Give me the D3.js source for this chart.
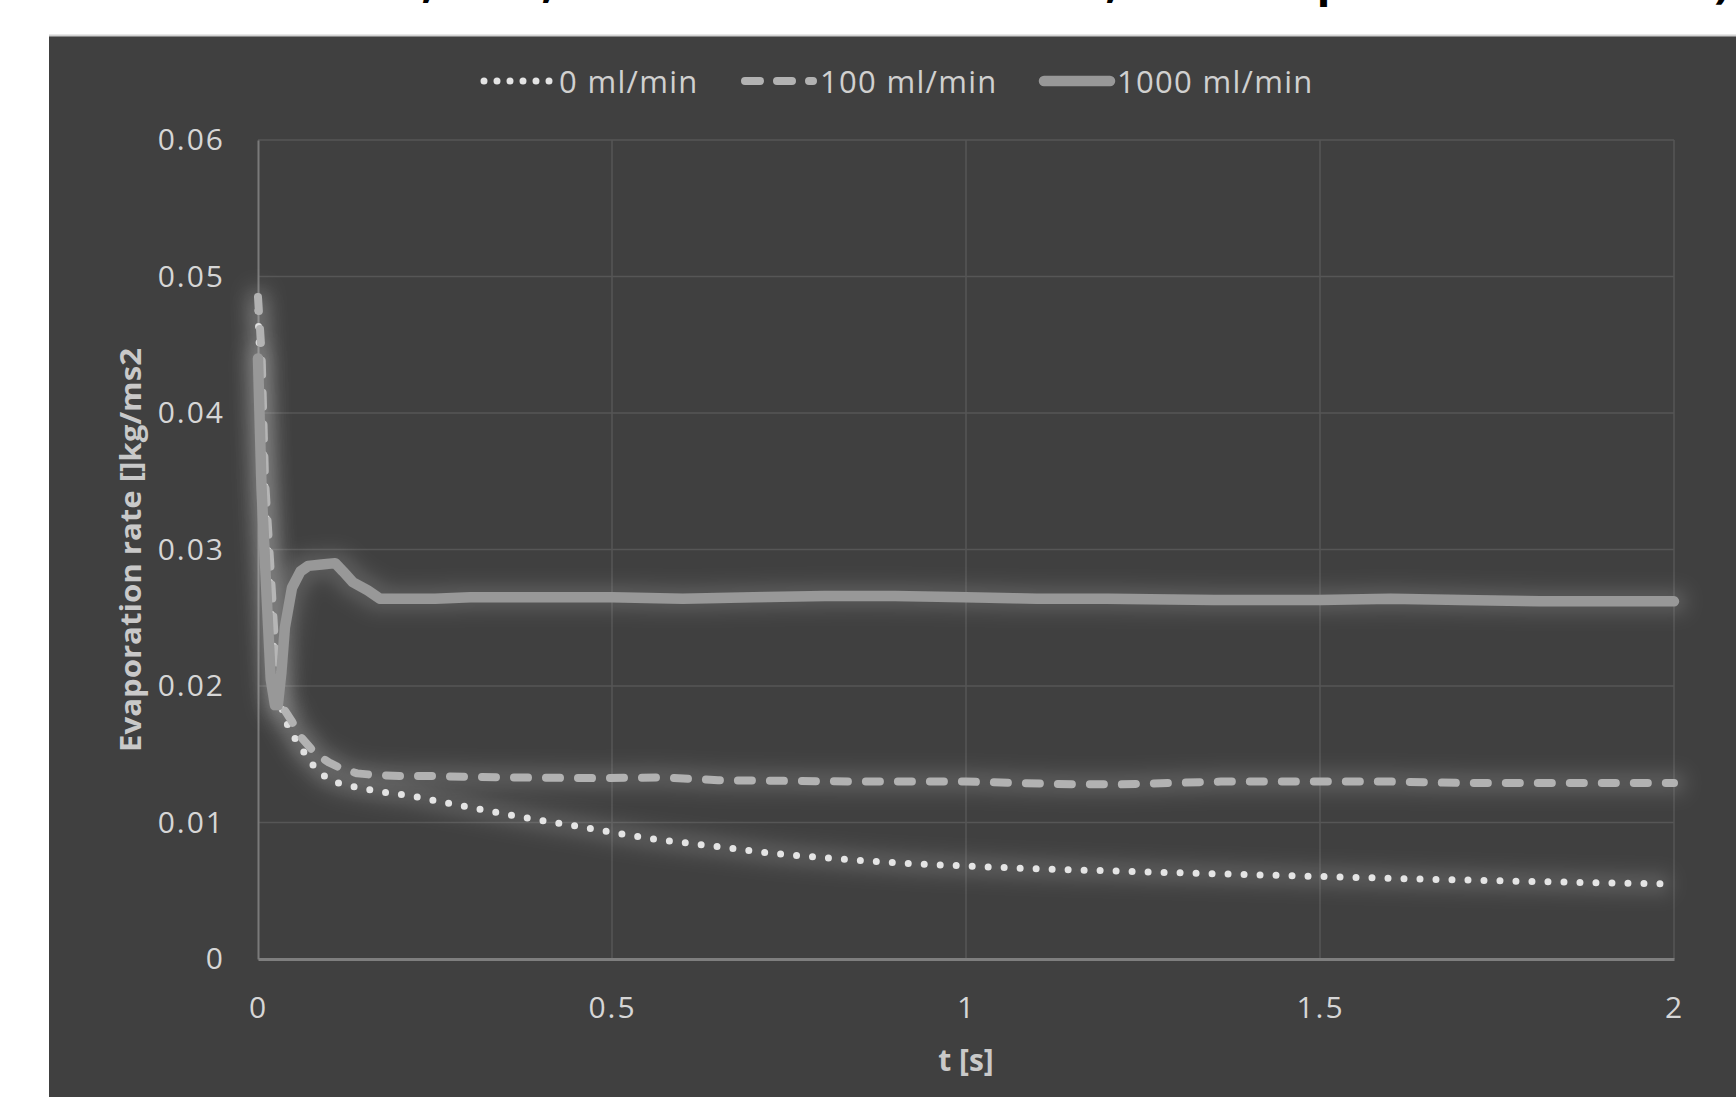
<!DOCTYPE html>
<html>
<head>
<meta charset="utf-8">
<script src="https://cdn.jsdelivr.net/npm/d3@7"></script>
<style>
  html, body { margin: 0; padding: 0; background: #fff; }
  svg { display: block; }
</style>
</head>
<body>
<svg id="chart" width="1736" height="1097"></svg>
<script>
(function () {
'use strict';

    // series, t in s, rate in kg/ms2
    var t0 = [0, 0.005, 0.012, 0.02, 0.028, 0.038, 0.048, 0.06, 0.0725, 0.087, 0.105, 0.128, 0.172, 0.217, 0.262,
              0.306, 0.351, 0.396, 0.441, 0.481, 0.551, 0.641, 0.73, 0.821, 0.911, 1.0, 1.09, 1.159, 1.297, 1.476,
              1.637, 1.816, 2.0];
    var rate0 = [0.0475, 0.0400, 0.0320, 0.0240, 0.0195, 0.01756, 0.01648, 0.01556, 0.01453, 0.01365, 0.0130, 0.0127,
                 0.01226, 0.01194, 0.01148, 0.01104, 0.0106, 0.01018, 0.00982, 0.00945, 0.00884, 0.00828, 0.00772,
                 0.00733, 0.00701, 0.00681, 0.00662, 0.00652, 0.00632, 0.00608, 0.00586, 0.00566, 0.00549];

    var t100 = [0, 0.005, 0.01, 0.017, 0.024, 0.03, 0.038, 0.048, 0.06, 0.08, 0.1, 0.116, 0.14, 0.161, 0.2, 0.25,
                0.35, 0.476, 0.568, 0.65, 0.747, 0.85, 0.926, 1.0, 1.067, 1.152, 1.22, 1.292, 1.36, 1.427, 1.516,
                1.6, 1.695, 1.8, 1.9, 2.0];
    var rate100 = [0.0485, 0.0444, 0.0350, 0.0292, 0.0231, 0.0190, 0.0182, 0.0174, 0.0163, 0.0151, 0.0144, 0.0140,
                   0.0136, 0.0135, 0.0134, 0.0134, 0.0133, 0.01325, 0.0133, 0.0131, 0.01305, 0.0130, 0.0130, 0.0130,
                   0.0129, 0.0128, 0.0128, 0.0129, 0.0130, 0.0130, 0.0130, 0.0130, 0.0129, 0.0129, 0.0129, 0.0129];

    var t1000 = [0, 0.005, 0.012, 0.018, 0.024, 0.028, 0.033, 0.038, 0.048, 0.06, 0.071, 0.09, 0.109, 0.12, 0.134,
                 0.155, 0.172, 0.2, 0.25, 0.3, 0.36, 0.45, 0.5, 0.6, 0.7, 0.8, 0.9, 1.0, 1.1, 1.2, 1.35, 1.5, 1.6,
                 1.7, 1.81, 1.9, 2.0];
    var rate1000 = [0.0440, 0.0345, 0.0268, 0.0205, 0.0186, 0.0186, 0.0210, 0.0243, 0.0272, 0.0284, 0.0288, 0.0289,
                    0.0290, 0.0284, 0.0276, 0.0270, 0.0264, 0.0264, 0.0264, 0.0265, 0.0265, 0.0265, 0.0265, 0.0264,
                    0.0265, 0.0266, 0.0266, 0.0265, 0.0264, 0.0264, 0.0263, 0.0263, 0.0264, 0.0263, 0.0262, 0.0262,
                    0.0262];

    var seriesNames = ['0 ml/min', '100 ml/min', '1000 ml/min'];
    var xTicks = [0, 0.5, 1, 1.5, 2];
    var yTicks = [0, 0.01, 0.02, 0.03, 0.04, 0.05, 0.06];
    var xTitle = 't [s]';
    var yTitle = 'Evaporation rate []kg/ms2';
    // only the bottoms of the title glyphs are in the frame
    var titleMarks = [',', ',', ',', 'p', ')'];

    var W = 1736, H = 1097;
    var plot = {left: 258, right: 1674, top: 140, bottom: 959};
    var font = '"Open Sans", "Noto Sans", sans-serif';

    var svg = d3.select('#chart');

    var x = d3.scaleLinear().domain([0, 2]).range([plot.left, plot.right]),
        y = d3.scaleLinear().domain([0, 0.06]).range([plot.bottom, plot.top]);

    var styles = [
        {stroke: '#e4e4e4', width: 7, dash: '0 16', legendDash: '0 13'},
        {stroke: '#b2b2b2', width: 8, dash: '14 18', legendDash: '15 17'},
        {stroke: '#989898', width: 10.5, dash: null, legendDash: null}
    ];

    var series = [
        {name: seriesNames[0], values: d3.zip(t0, rate0)},
        {name: seriesNames[1], values: d3.zip(t100, rate100)},
        {name: seriesNames[2], values: d3.zip(t1000, rate1000)}
    ];

    // glow like the office "glow" effect
    var defs = svg.append('defs');
    var glow = defs.append('filter')
        .attr('id', 'glow')
        .attr('filterUnits', 'userSpaceOnUse')
        .attr('x', 0).attr('y', 0).attr('width', W).attr('height', H);
    glow.append('feMorphology').attr('in', 'SourceAlpha').attr('operator', 'dilate').attr('radius', 7).attr('result', 'fat');
    glow.append('feGaussianBlur').attr('in', 'fat').attr('stdDeviation', 9).attr('result', 'soft');
    glow.append('feFlood').attr('flood-color', '#c8c8c8').attr('flood-opacity', 0.2).attr('result', 'col');
    glow.append('feComposite').attr('in', 'col').attr('in2', 'soft').attr('operator', 'in').attr('result', 'halo');
    var merge = glow.append('feMerge');
    merge.append('feMergeNode').attr('in', 'halo');
    merge.append('feMergeNode').attr('in', 'SourceGraphic');

    // cut off title
    svg.append('g').attr('class', 'title-marks')
        .selectAll('text').data(titleMarks).enter().append('text')
        .attr('x', function(d, i) { return [428, 548, 1112, 1331, 1722][i]; })
        .attr('y', function(d) { return d === 'p' ? -4 : -3; })
        .attr('text-anchor', 'middle')
        .attr('font-family', font)
        .attr('font-weight', 'bold')
        .attr('font-size', 46)
        .attr('fill', '#000')
        .text(function(d) { return d; });

    // dark chart area
    svg.append('rect')
        .attr('x', 49).attr('y', 35)
        .attr('width', W - 49).attr('height', H - 35)
        .attr('fill', '#404040');
    svg.append('line')
        .attr('x1', 49).attr('x2', W).attr('y1', 35.5).attr('y2', 35.5)
        .attr('stroke', '#d2d2d2').attr('stroke-width', 2);

    // grid
    var grid = svg.append('g').attr('class', 'grid');
    grid.selectAll('line.h').data(yTicks.slice(1)).enter().append('line')
        .attr('class', 'h')
        .attr('x1', plot.left).attr('x2', plot.right)
        .attr('y1', function(d) { return y(d); }).attr('y2', function(d) { return y(d); })
        .attr('stroke', '#565656').attr('stroke-width', 1.5);
    grid.selectAll('line.v').data(xTicks.slice(1)).enter().append('line')
        .attr('class', 'v')
        .attr('x1', function(d) { return x(d); }).attr('x2', function(d) { return x(d); })
        .attr('y1', plot.top).attr('y2', plot.bottom)
        .attr('stroke', '#565656').attr('stroke-width', 1.5);

    // axes
    var yAxis = svg.append('g')
        .attr('transform', 'translate(' + plot.left + ',0)')
        .call(d3.axisLeft(y).tickValues(yTicks).tickSize(0).tickPadding(33)
            .tickFormat(function(d) { return d === 0 ? '0' : d3.format('.2f')(d); }));
    var xAxis = svg.append('g')
        .attr('transform', 'translate(0,' + plot.bottom + ')')
        .call(d3.axisBottom(x).tickValues(xTicks).tickSize(0).tickPadding(38).tickFormat(d3.format('')));

    [xAxis, yAxis].forEach(function(a) {
        a.select('.domain').attr('stroke', '#7a7a7a').attr('stroke-width', 2);
        a.selectAll('text')
            .attr('fill', '#d6d6d6')
            .attr('font-family', font)
            .attr('font-size', 30)
            .attr('letter-spacing', 2);
    });
    xAxis.select('.domain').attr('stroke-width', 3).attr('stroke', '#7e7e7e');

    svg.append('text')
        .attr('transform', 'translate(129,550) rotate(-90)')
        .attr('text-anchor', 'middle')
        .attr('dominant-baseline', 'central')
        .attr('font-family', font)
        .attr('font-weight', 'bold')
        .attr('font-size', 29)
        .attr('textLength', 404)
        .attr('lengthAdjust', 'spacingAndGlyphs')
        .attr('fill', '#c9c9c9')
        .text(yTitle);

    svg.append('text')
        .attr('x', 966).attr('y', 1059)
        .attr('text-anchor', 'middle')
        .attr('dominant-baseline', 'central')
        .attr('font-family', font)
        .attr('font-weight', 'bold')
        .attr('font-size', 30)
        .attr('fill', '#c9c9c9')
        .text(xTitle);

    // lines
    var line = d3.line()
        .x(function(d) { return x(d[0]); })
        .y(function(d) { return y(d[1]); });

    var lines = svg.append('g').attr('class', 'lines');
    lines.selectAll('path').data(series).enter().append('path')
        .attr('d', function(d) { return line(d.values); })
        .attr('fill', 'none')
        .attr('stroke', function(d, i) { return styles[i].stroke; })
        .attr('stroke-width', function(d, i) { return styles[i].width; })
        .attr('stroke-dasharray', function(d, i) { return styles[i].dash; })
        .attr('stroke-linecap', 'round')
        .attr('stroke-linejoin', 'round')
        .attr('filter', 'url(#glow)');

    // legend
    var legendPos = [{x1: 484, x2: 550, tx: 559}, {x1: 745, x2: 813, tx: 820}, {x1: 1044, x2: 1110, tx: 1117}];
    var legend = svg.append('g').attr('class', 'legend');
    var items = legend.selectAll('g').data(series).enter().append('g');
    items.append('line')
        .attr('x1', function(d, i) { return legendPos[i].x1; })
        .attr('x2', function(d, i) { return legendPos[i].x2; })
        .attr('y1', 81).attr('y2', 81)
        .attr('stroke', function(d, i) { return styles[i].stroke; })
        .attr('stroke-width', function(d, i) { return styles[i].width; })
        .attr('stroke-dasharray', function(d, i) { return styles[i].legendDash; })
        .attr('stroke-linecap', 'round');
    items.append('text')
        .attr('x', function(d, i) { return legendPos[i].tx; })
        .attr('y', 81)
        .attr('dominant-baseline', 'central')
        .attr('font-family', font)
        .attr('font-size', 31)
        .attr('letter-spacing', 1.3)
        .attr('fill', '#d0d0d0')
        .text(function(d) { return d.name; });

})();
</script>
</body>
</html>
